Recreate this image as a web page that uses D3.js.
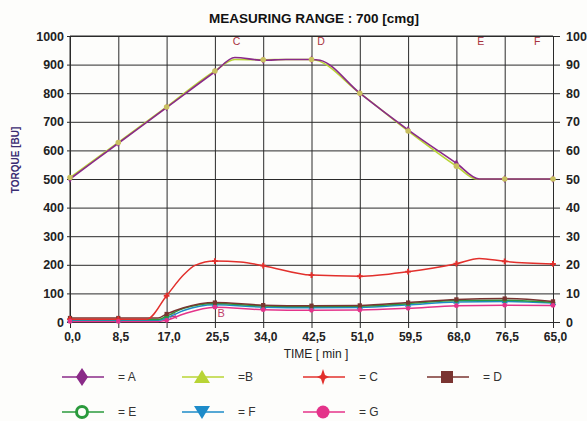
<!DOCTYPE html>
<html>
<head>
<meta charset="utf-8">
<script src="https://cdn.jsdelivr.net/npm/d3@7"></script>
<style>
body{margin:0;background:#fdfdfb;}
text{font-family:"Liberation Sans",Arial,sans-serif;}
</style>
</head>
<body>
<script>
// tick labels as printed on the chart (last one really says 65,0)
var xTickMinutes = [0,8.5,17,25.5,34,42.5,51,59.5,68,76.5,85];
var xTickLabels = ["0,0","8,5","17,0","25,5","34,0","42,5","51,0","59,5","68,0","76,5","65,0"];

// series: [minute, torque BU]
var seriesA = [[0,500],[8.5,625],[17,750],[25.5,875],[29,925],[34,915],[38,918],[42.5,918],[44,915],[51,800],[59.5,672],[68,555],[72,500],[76.5,500],[85,500]];
var seriesB = [[0,505],[8.5,628],[17,752],[25.5,878],[29,918],[34,917],[38,918],[42.5,918],[51,800],[59.5,668],[68,545],[71.5,500],[76.5,500],[85,500]];
var seriesC = [[0,10],[8.5,10],[13.5,10],[17,92],[20,165],[22,198],[25.5,213],[30,210],[34,197],[42.5,164],[51,160],[59.5,176],[68,204],[72,222],[76.5,212],[85,203]];
var seriesD = [[0,14],[8.5,14],[15.5,14],[17,28],[20,50],[25.5,68],[34,59],[42.5,57],[51,58],[59.5,68],[68,79],[76.5,82],[85,72]];
var seriesE = [[0,9],[8.5,9],[15.5,9],[17,20],[20,48],[25.5,65],[34,56],[42.5,54],[51,55],[59.5,64],[68,75],[76.5,76],[85,68]];
var seriesF = [[0,6],[8.5,6],[15.5,6],[17,14],[20,40],[25.5,60],[34,52],[42.5,50],[51,51],[59.5,60],[68,70],[76.5,72],[85,66]];
var seriesG = [[0,2],[8.5,2],[15.5,2],[17,6],[20,28],[25.5,52],[34,43],[42.5,41],[51,42],[59.5,48],[68,57],[76.5,59],[85,58]];

var names = ["A","B","C","D","E","F","G"];
var colors = ["#8a2a88","#b8d435","#e2302c","#7a3431","#2a9a3c","#1d8bc9","#e4338a"];
var allSeries = [seriesA,seriesB,seriesC,seriesD,seriesE,seriesF,seriesG];

//globals (plot box)
var pLeft=70, pRight=553, pTop=36, pBottom=322;

var svg = d3.select("body").append("svg")
    .attr("width",587).attr("height",421);

svg.append("rect").attr("width",587).attr("height",421).attr("fill","#fdfdfb");

var x = d3.scaleLinear().domain([0,85]).range([pLeft,pRight]);
var y = d3.scaleLinear().domain([0,1000]).range([pBottom,pTop]);
var yR = d3.scaleLinear().domain([0,100]).range([pBottom,pTop]);

//title
svg.append("text")
    .attr("x",314).attr("y",23)
    .attr("text-anchor","middle")
    .attr("font-size",13.5).attr("font-weight","bold")
    .attr("fill","#111")
    .text("MEASURING RANGE : 700 [cmg]");

//horizontal grid (runs a bit past the right edge like ticks)
var hg = svg.append("g").attr("transform","translate("+(pLeft-3)+",0)")
    .call(d3.axisRight(y).ticks(10).tickSize(pRight-pLeft+10).tickFormat(""));
hg.select(".domain").remove();
hg.selectAll("line").attr("stroke","#2a2a2a");

//vertical grid (runs a bit below the bottom)
var vg = svg.append("g").attr("transform","translate(0,"+pTop+")")
    .call(d3.axisBottom(x).tickValues(xTickMinutes).tickSize(pBottom-pTop+6).tickFormat(""));
vg.select(".domain").remove();
vg.selectAll("line").attr("stroke","#2a2a2a");

//left axis labels
var gl = svg.append("g").attr("transform","translate("+pLeft+",0)")
    .call(d3.axisLeft(y).ticks(10).tickFormat(d3.format("d")).tickSize(0).tickPadding(6));
gl.select(".domain").remove();
gl.selectAll("text").attr("font-size",12.5).attr("font-weight","bold").attr("fill","#222");

//right axis labels
var gr = svg.append("g").attr("transform","translate("+pRight+",0)")
    .call(d3.axisRight(yR).ticks(10).tickSize(0).tickPadding(13));
gr.select(".domain").remove();
gr.selectAll("text").attr("font-size",12.5).attr("font-weight","bold").attr("fill","#222");

//bottom axis labels
var gb = svg.append("g").attr("transform","translate(0,"+pBottom+")")
    .call(d3.axisBottom(x).tickValues(xTickMinutes)
        .tickFormat(function(d,i){return xTickLabels[i];})
        .tickSize(0).tickPadding(10));
gb.select(".domain").remove();
gb.selectAll("text").attr("font-size",12).attr("font-weight","bold").attr("fill","#222")
    .attr("dx",2);

//plot frame top + left
svg.append("line").attr("x1",pLeft).attr("x2",pRight).attr("y1",pTop).attr("y2",pTop).attr("stroke","#2a2a2a");
svg.append("line").attr("x1",pLeft).attr("x2",pLeft).attr("y1",pTop).attr("y2",pBottom).attr("stroke","#2a2a2a");

//axis titles
svg.append("text")
    .attr("transform","translate(19,160) rotate(-90)")
    .attr("text-anchor","middle")
    .attr("font-size",10).attr("font-weight","bold").attr("fill","#3b2c72")
    .text("TORQUE [BU]");
svg.append("text")
    .attr("x",316).attr("y",358)
    .attr("text-anchor","middle")
    .attr("font-size",12).attr("fill","#222")
    .text("TIME [ min ]");

//section letters
var letters = [["C",29.3],["D",44.2],["E",72.3],["F",82.2]];
svg.selectAll(".sect").data(letters).enter().append("text")
    .attr("x",function(d){return x(d[1]);})
    .attr("y",y(968))
    .attr("text-anchor","middle")
    .attr("font-size",10.5).attr("fill","#a8343f")
    .text(function(d){return d[0];});
svg.append("text").attr("x",x(26.6)).attr("y",y(18)).attr("text-anchor","middle")
    .attr("font-size",11).attr("fill","#c0406a").text("B");
svg.append("text").attr("x",x(18.2)).attr("y",y(10)).attr("text-anchor","middle")
    .attr("font-size",11).attr("fill","#c0406a").text("A");

//lines
var line = d3.line()
    .x(function(d){return x(d[0]);})
    .y(function(d){return y(d[1]);})
    .curve(d3.curveMonotoneX);

//draw low curves first so top ones overlay as in the picture
var order = [6,5,4,3,2,1,0];
order.forEach(function(i){
    svg.append("path")
        .datum(allSeries[i])
        .attr("d",line)
        .attr("fill","none")
        .attr("stroke",colors[i])
        .attr("stroke-width",i<2?1.6:1.5);
});

//small markers on grid minutes (yellow B dots sit on top of A)
var symbols = [d3.symbolDiamond,d3.symbolCircle,d3.symbolCross,d3.symbolSquare,d3.symbolCircle,d3.symbolTriangle,d3.symbolCircle];
var markerOrder = [5,4,3,2,6,0,1];
markerOrder.forEach(function(i){
    var pts = allSeries[i].filter(function(d){return xTickMinutes.indexOf(d[0])>=0;});
    svg.append("g").selectAll("path")
        .data(pts).enter().append("path")
        .attr("transform",function(d){return "translate("+x(d[0])+","+y(d[1])+")";})
        .attr("d",d3.symbol().type(symbols[i]).size(i==1?24:18))
        .attr("fill",i==1?"#c9c060":colors[i]);
});

//legend
var legendPos = [[62,377],[182,377],[303,377],[427,377],[62,412],[182,412],[303,412]];
var legendText = ["= A","=B","= C","= D","= E","= F","= G"];
legendPos.forEach(function(p,i){
    var g = svg.append("g").attr("transform","translate("+p[0]+","+p[1]+")");
    g.append("line").attr("x1",0).attr("x2",42).attr("y1",0).attr("y2",0)
        .attr("stroke",colors[i]).attr("stroke-width",1.3);
    var cx=20;
    if(i==0){
        g.append("path").attr("d","M"+cx+",-9L"+(cx+6)+",0L"+cx+",9L"+(cx-6)+",0Z").attr("fill",colors[i]);
    } else if(i==1){
        g.append("path").attr("d","M"+cx+",-7L"+(cx+8)+",6L"+(cx-8)+",6Z").attr("fill",colors[i]);
    } else if(i==2){
        g.append("path").attr("d","M"+cx+",-8L"+(cx+2)+",-2L"+(cx+6)+",0L"+(cx+2)+",2L"+cx+",8L"+(cx-2)+",2L"+(cx-6)+",0L"+(cx-2)+",-2Z").attr("fill",colors[i]);
    } else if(i==3){
        g.append("rect").attr("x",cx-6).attr("y",-6).attr("width",12).attr("height",12).attr("fill",colors[i]);
    } else if(i==4){
        g.append("circle").attr("cx",cx).attr("cy",0).attr("r",5.5).attr("fill","#fdfdfb")
            .attr("stroke",colors[i]).attr("stroke-width",3);
    } else if(i==5){
        g.append("path").attr("d","M"+(cx-8)+",-6L"+(cx+8)+",-6L"+cx+",7Z").attr("fill",colors[i]);
    } else {
        g.append("circle").attr("cx",cx).attr("cy",0).attr("r",6.5).attr("fill",colors[i]);
    }
    g.append("text").attr("x",56).attr("y",4)
        .attr("font-size",12).attr("fill","#333")
        .text(legendText[i]);
});
</script>
</body>
</html>
